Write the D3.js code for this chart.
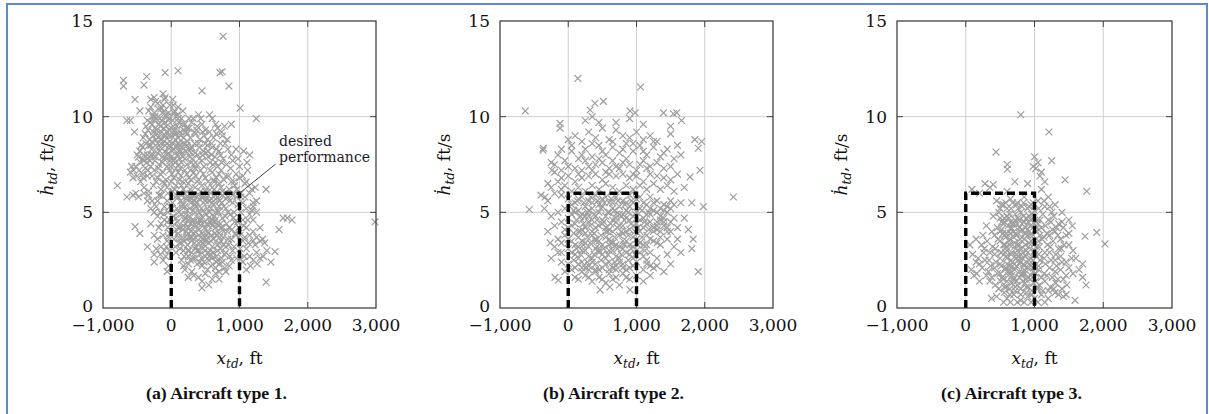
<!DOCTYPE html>
<html><head><meta charset="utf-8">
<script src="https://cdn.jsdelivr.net/npm/d3@7"></script>
<style>html,body{margin:0;padding:0;background:#fff;}svg{display:block;}</style>
</head><body>
<svg id="chart" width="1209" height="414"></svg>
<script>
const xTicks = [-1000, 0, 1000, 2000, 3000];
const yTicks = [0, 5, 10, 15];
const xDomain = [-1000, 3000];
const yDomain = [0, 15];
const captions = ["(a) Aircraft type 1.", "(b) Aircraft type 2.", "(c) Aircraft type 3."];
const desiredX = [0, 1000];
const desiredH = 6;
const annotationLines = ["desired", "performance"];

const type1Points = [
[-300,10.5],[-250,10.2],[-200,10.7],[-150,10.4],[-100,10.9],[-80,10.1],[-20,10.6],[50,10.3],[100,10.5],[150,9.9],
[-350,9.8],[-280,9.6],[-220,9.9],[-160,9.5],[-90,9.7],[-30,9.3],[20,9.8],[80,9.5],[130,9.2],[200,9.6],
[260,9.4],[320,9.9],[400,10.1],[450,9.6],[-380,9.1],[-320,8.8],[-260,9.2],[-190,8.9],[-120,9.0],[-60,8.6],
[0,9.0],[60,8.8],[120,8.5],[180,8.9],[240,8.7],[300,8.4],[360,9.1],[420,8.8],[500,8.6],[560,9.2],
[620,8.9],[680,9.4],[720,8.6],[780,9.5],[-420,8.4],[-350,8.0],[-290,8.3],[-230,7.9],[-170,8.2],[-110,7.8],
[-40,8.1],[30,7.7],[90,8.0],[150,7.6],[210,8.2],[270,7.9],[330,7.5],[390,8.0],[450,7.7],[510,8.1],
[570,7.6],[640,7.9],[700,8.2],[760,7.8],[830,8.3],[-450,7.6],[-380,7.3],[-310,7.7],[-250,7.2],[-180,7.5],
[-120,7.1],[-60,7.4],[10,7.0],[70,7.3],[140,6.9],[200,7.2],[260,6.8],[330,7.1],[400,6.7],[470,7.0],
[540,6.6],[600,7.1],[660,6.8],[730,7.2],[800,6.9],[870,7.3],[950,7.0],[1000,7.4],[1050,6.9],[1120,7.2],
[-240,9.4],[-140,9.8],[-60,10.0],[40,9.1],[-10,8.4],[110,8.2],[-200,8.6],[180,9.3],[-130,10.2],[-270,9.0],
[70,10.0],[230,9.1],[290,8.1],[340,8.6],[-300,8.5],[20,8.6],[160,8.1],[-70,9.2],[260,9.9],[380,9.5],
[480,9.0],[540,8.2],[600,8.4],[650,7.6],[-20,7.7],[-90,8.5],[130,7.3],[310,7.8],
[-100,6.5],[-50,6.0],[0,6.6],[50,6.2],[100,5.8],[150,6.4],[200,6.0],[250,6.5],[300,5.7],[350,6.3],
[400,5.9],[450,6.4],[500,6.1],[550,5.6],[600,6.3],[650,5.9],[700,6.5],[750,6.1],[800,5.7],[850,6.2],
[900,5.9],[-200,6.8],[-150,6.2],[120,6.7],[380,6.6],[620,6.7],[880,6.6],[960,6.2],[1020,5.8],[1080,6.5],
[1150,6.0],[1200,5.5],
[20,5.5],[80,5.2],[140,5.6],[200,5.3],[260,5.7],[320,5.1],[380,5.5],[440,5.2],[500,5.6],[560,5.0],
[620,5.4],[680,5.1],[740,5.5],[800,5.2],[860,5.6],[920,5.0],[980,5.4],
[30,4.8],[90,4.5],[150,4.9],[210,4.4],[270,4.8],[330,4.3],[390,4.7],[450,4.4],[510,4.9],[570,4.5],
[630,4.8],[690,4.3],[750,4.7],[810,4.4],[870,4.9],[930,4.5],[990,4.2],
[50,4.0],[110,3.7],[170,4.1],[230,3.6],[290,4.0],[350,3.7],[410,4.1],[470,3.6],[530,4.0],[590,3.8],
[650,4.2],[710,3.7],[770,4.0],[830,3.6],[890,4.1],[950,3.8],
[60,3.2],[120,3.4],[180,3.0],[240,3.3],[300,2.9],[360,3.2],[420,2.8],[480,3.3],[540,2.9],[600,3.2],
[660,2.7],[720,3.1],[780,2.8],[840,3.3],[900,3.0],[960,2.6],
[150,2.5],[250,2.3],[350,2.6],[450,2.2],[550,2.5],[650,2.1],[750,2.4],[850,2.2],[300,1.9],[500,1.8],
[700,1.9],[400,1.6],[600,1.5],[200,2.0],
[250,4.6],[350,5.0],[450,3.9],[550,4.7],[300,3.5],[400,4.4],[500,3.5],[600,4.3],[350,4.0],[450,4.8],
[250,3.9],[550,3.4],[650,4.6],[700,3.9],[200,4.7],[150,3.4],[100,4.2],[400,3.0],[500,2.7],[600,2.6],
[700,2.3],[800,2.9],[450,5.8],[300,5.9],[150,5.9],[650,5.7],[750,5.9],
[-600,7.1],[-550,7.2],[-500,6.9],[-450,6.6],[-400,6.3],[-520,6.0],[-480,5.8],[-560,5.9],[-350,5.6],[-300,5.2],
[-250,5.0],[-200,4.8],[-150,4.4],[-100,4.6],[-50,4.2],[-300,4.4],[-250,3.8],[-200,3.6],[-150,3.2],[-100,3.0],
[-60,3.5],[-20,3.9],[-350,3.2],[-250,2.8],[-120,2.5],[-40,2.2],[-200,5.6],[-100,5.3],[-50,5.0],[-150,5.9],
[-420,7.0],[-350,6.9],[-60,5.6],[-20,4.6],[-30,3.0],
[1050,5.5],[1100,5.2],[1150,4.9],[1200,5.3],[1250,5.0],[1050,4.6],[1100,4.2],[1150,3.8],[1200,4.0],[1050,3.5],
[1100,3.1],[1150,2.7],[1200,2.5],[1250,2.9],[1300,2.6],[1050,2.4],[1100,2.0],[1350,2.7],[1400,3.0],[1300,3.5],
[1340,3.6],[1370,3.4],[1250,3.7],[1200,4.6],[1020,6.0],[1080,5.8],
[760,14.2],[100,12.4],[-90,12.3],[-360,12.1],[-700,11.9],[-700,11.6],[-400,11.65],[715,12.3],[745,12.35],[845,11.6],
[450,11.35],[1010,10.45],[1245,9.9],[-120,11.2],[-90,11.0],[-530,10.9],[-650,9.8],[-540,9.2],[-790,6.4],[-650,5.8],
[-530,4.25],[-460,3.9],[-250,2.4],[-60,1.9],[450,1.05],[1390,1.35],[1520,2.95],[1580,4.1],[1640,4.7],[1770,4.6],
[1700,4.7],[2985,4.5],[1390,6.2],[1230,6.3],[1110,7.6],[1230,3.3],[1460,2.4],[-460,10.3],[-300,10.9],[-250,11.0],
[880,9.6],[560,10.1],[600,9.9],[1060,8.2],[1150,8.0],[-600,9.8]
];
const type1Core = [
[-330,10.3],[-270,10.0],[-190,10.4],[-120,10.6],[-40,10.2],[30,10.6],[90,10.1],[170,10.3],[-230,10.8],[20,10.9],
[-370,9.5],[-310,9.7],[-250,9.8],[-180,9.6],[-110,9.4],[-40,9.8],[30,9.5],[100,9.9],[160,9.6],[230,9.4],
[300,9.7],[370,9.3],[430,9.9],[500,9.3],[650,9.6],[740,9.2],
[-410,8.9],[-340,9.3],[-280,8.7],[-210,9.1],[-150,8.8],[-80,9.0],[-20,8.7],[50,9.3],[100,8.9],[170,8.6],
[220,9.2],[280,8.9],[340,9.2],[400,8.6],[460,9.2],[530,8.8],[590,8.6],[660,9.1],[750,9.0],[820,8.8],
[-460,8.2],[-400,8.0],[-330,8.5],[-270,8.0],[-210,8.4],[-150,8.6],[-90,8.2],[-30,8.5],[40,8.3],[100,8.6],
[160,8.4],[230,8.5],[290,8.3],[350,8.1],[410,8.4],[470,8.2],[530,8.5],[590,8.0],[660,8.3],[720,8.0],
[790,8.6],[880,8.0],[950,8.3],
[-480,7.9],[-420,7.8],[-360,7.6],[-300,7.4],[-240,7.7],[-190,7.3],[-130,7.6],[-70,7.8],[-10,7.4],[50,7.8],
[110,7.5],[170,7.9],[230,7.5],[290,7.6],[350,7.3],[410,7.8],[480,7.4],[540,7.9],[610,7.5],[680,7.4],
[740,7.6],[810,7.5],[900,7.7],[980,7.8],
[-470,7.2],[-410,6.8],[-340,7.2],[-280,6.9],[-220,6.6],[-160,7.0],[-80,6.7],[-20,7.2],[40,6.8],[100,7.1],
[170,6.6],[230,7.0],[290,6.7],[360,6.9],[430,7.2],[500,6.8],[570,7.2],[630,6.6],[700,7.0],[770,6.7],
[840,6.9],[920,6.6],[1000,6.8],
[-330,6.1],[-260,6.4],[-180,5.9],[-120,6.6],[-60,6.3],[20,6.1],[70,6.4],[130,6.0],[180,6.2],[230,5.8],
[280,6.2],[330,5.9],[430,6.1],[480,5.8],[530,6.3],[580,6.0],[630,6.2],[680,5.8],[730,6.3],[780,6.0],
[830,5.8],[930,6.4],
[10,5.2],[60,5.8],[110,5.0],[170,5.4],[230,5.1],[290,5.5],[350,5.4],[410,5.0],[470,5.5],[530,5.2],
[590,5.7],[650,5.0],[710,5.6],[770,5.3],[830,5.0],[900,5.5],[960,5.8],
[20,4.3],[70,4.7],[130,4.2],[190,4.6],[250,4.2],[310,4.6],[370,4.3],[430,4.6],[490,4.2],[550,4.3],
[610,4.6],[670,4.4],[730,4.2],[790,4.8],[850,4.2],[910,4.7],[970,4.5],
[40,3.6],[100,3.9],[160,3.7],[220,4.0],[280,3.7],[340,3.4],[400,3.8],[460,3.4],[520,3.8],[580,3.5],
[640,3.9],[700,3.4],[760,3.7],[820,4.0],[880,3.6],[940,3.9],
[70,2.9],[130,3.1],[190,2.7],[260,3.0],[320,2.6],[380,3.0],[440,2.6],[500,3.0],[560,2.7],[620,2.9],
[680,3.3],[740,2.6],[800,3.2],[860,2.7],[920,3.2],
[180,2.2],[280,2.5],[380,2.3],[480,2.4],[580,2.2],[680,2.5],[780,2.1],[880,2.5],[330,1.7],[530,2.0],
[650,1.8],[800,1.9],[250,1.6],[450,1.4],[550,1.2],[700,1.5],
[1020,5.0],[1060,4.3],[1120,4.6],[1180,5.1],[1010,3.8],[1080,3.7],[1130,3.4],[1010,3.1],[1070,2.7],[1010,2.6],
[1200,3.5],[1160,2.2],[1260,2.3],[1300,4.2],[1250,5.6],[1180,6.2],[1100,6.6],
[-400,6.0],[-330,5.9],[-280,5.6],[-220,5.3],[-160,5.0],[-110,4.9],[-60,4.5],[-180,4.2],[-120,3.8],[-70,3.2],
[-160,2.8],[-80,2.7],[-220,3.1],[-40,3.7],[-20,5.3],[-520,7.4],[-560,6.8],[-580,7.4],[-500,8.0],[-440,8.5],
[-370,8.6]
];
const type1Dense = [
[160,5.3],[210,4.9],[270,5.2],[310,4.5],[360,5.3],[420,4.6],[470,5.1],[520,4.4],[580,5.2],[630,4.5],
[690,5.0],[740,4.2],[180,4.3],[230,3.8],[280,4.4],[330,3.9],[380,4.5],[430,3.7],[490,4.5],[540,3.9],
[600,4.6],[660,3.8],[720,4.4],[770,3.3],[190,3.5],[240,3.0],[300,3.7],[350,3.1],[400,3.4],[460,3.1],
[510,3.6],[570,3.0],[620,3.6],[680,3.0],[730,3.5],[220,5.7],[340,5.6],[410,5.7],[520,5.8],[600,5.5],
[700,5.3],[250,2.7],[420,2.4],[580,2.8],[660,2.4],
[-240,10.0],[-170,9.9],[-100,10.3],[-30,9.9],[40,10.2],[110,9.7],[-210,9.3],[-140,9.2],[-70,9.5],[0,9.4],
[70,9.1],[140,9.0],[200,8.6],[-230,8.8],[-160,8.4],[-100,8.7],[-40,9.0],[10,8.2],[80,8.5],[140,8.2],
[250,8.3],[-200,8.1],[-130,7.9],[-60,8.0],[0,7.9],[60,7.6],[120,7.8],[200,7.8],[280,7.2],[380,7.5],
[460,8.0],[-300,8.0],[-350,7.8],[-400,7.7]
];

const type2Points = [
[-100,5.9],[0,5.7],[100,5.5],[200,5.8],[300,5.6],[400,5.9],[500,5.7],[600,5.5],[700,5.8],[800,5.6],
[900,5.9],[1000,5.7],[1100,5.5],[1200,5.8],[1300,5.6],[1400,5.4],[1500,5.6],
[-150,5.0],[-50,5.2],[50,4.9],[150,5.1],[250,4.8],[350,5.2],[450,5.0],[550,4.8],[650,5.2],[750,4.9],
[850,5.1],[950,4.8],[1050,5.2],[1150,4.9],[1250,5.1],[1350,4.8],[1450,5.0],[1550,4.7],
[-200,4.3],[-100,4.5],[0,4.2],[100,4.4],[200,4.1],[300,4.5],[400,4.2],[500,4.4],[600,4.1],[700,4.5],
[800,4.3],[900,4.1],[1000,4.4],[1100,4.2],[1200,4.5],[1300,4.1],[1400,4.3],[1500,4.0],[1600,4.2],
[-150,3.6],[-50,3.8],[50,3.5],[150,3.7],[250,3.4],[350,3.8],[450,3.5],[550,3.7],[650,3.4],[750,3.8],
[850,3.5],[950,3.7],[1050,3.4],[1150,3.8],[1250,3.5],[1350,3.3],[1450,3.6],[1550,3.2],
[-100,2.9],[0,3.1],[100,2.8],[200,3.0],[300,2.7],[400,3.1],[500,2.8],[600,3.0],[700,2.7],[800,3.1],
[900,2.8],[1000,3.0],[1100,2.7],[1200,2.9],[1300,2.6],[1450,2.8],
[0,2.3],[100,2.1],[200,2.4],[300,2.0],[400,2.3],[500,2.1],[600,2.4],[700,2.0],[800,2.3],[900,2.1],
[1000,2.4],[1100,2.0],[1200,2.2],[-50,1.9],
[150,1.5],[250,1.7],[350,1.4],[450,1.6],[550,1.3],[650,1.5],[750,1.2],[850,1.6],[1100,1.4],[1200,1.7],
[300,4.8],[400,3.6],[500,5.3],[600,3.3],[700,4.9],[800,3.9],[350,4.6],[450,3.0],[550,4.0],[650,4.6],
[750,3.2],[850,4.7],[250,3.9],[150,3.2],[950,3.2],[1050,4.6],[1150,3.3],[1250,4.0],[1350,4.6],[900,5.3],
[200,4.9],
[-300,6.5],[-200,7.1],[-100,6.8],[0,7.4],[100,6.6],[200,7.2],[300,6.9],[400,7.5],[500,6.7],[600,7.3],
[700,6.9],[800,7.6],[900,6.8],[1000,7.2],[1100,6.6],[1200,7.4],[1300,6.9],[1400,7.3],[1500,6.7],[1600,7.0],
[-250,7.6],[-150,8.0],[-50,7.7],[50,8.2],[150,7.8],[250,8.3],[350,7.9],[450,8.5],[550,8.0],[650,8.4],
[750,8.1],[850,8.6],[950,8.2],[1050,8.5],[1150,8.0],[1250,8.4],[1350,7.9],[1450,8.3],[1550,7.8],[1650,8.0],
[0,8.8],[100,9.0],[200,8.7],[300,9.2],[400,8.9],[500,9.4],[600,8.8],[700,9.3],[800,9.0],[900,8.9],
[1000,9.2],[1100,8.8],[1200,9.0],[1300,8.7],[1500,9.1],
[250,9.8],[350,10.0],[450,9.7],[700,9.7],[900,9.9],[1100,9.6],[1500,9.5],
[-200,6.0],[-100,6.2],[1700,6.3],[1650,5.5],[1700,4.7],[1600,3.6],[1650,2.9],[1500,2.3],[1400,1.9],[1300,2.2],
[-250,2.6],[-200,3.2],[-300,4.0],[-250,4.8],[-350,5.2],[-300,5.6],
[140,12.0],[1060,11.55],[-630,10.3],[390,10.7],[515,10.8],[320,10.35],[905,10.3],[980,10.2],[1395,10.2],[1540,10.15],
[1590,10.2],[1660,9.8],[-120,9.65],[-120,9.4],[-365,8.35],[-370,8.25],[1855,8.8],[1955,8.7],[1905,8.35],[1930,7.2],
[1785,6.85],[2420,5.8],[-570,5.15],[-340,5.8],[1980,5.3],[1810,5.5],[1905,1.9],[-265,3.4],[-145,1.45],[-195,1.6],
[1810,3.1],[1830,3.6],[1760,4.1],[465,0.95],[610,1.1],[905,0.95],[-400,5.9],[-240,7.2]
];
const type2Core = [
[50,5.4],[150,5.7],[250,5.3],[350,5.5],[450,5.4],[550,5.8],[650,5.5],[750,5.3],[850,5.5],[950,5.5],
[1050,5.8],[1150,5.4],[1250,5.5],[1350,5.2],[1450,5.3],
[0,4.7],[100,5.0],[200,4.6],[300,5.1],[400,4.8],[500,4.6],[600,5.0],[700,4.7],[800,4.9],[900,4.6],
[1000,5.0],[1100,4.7],[1200,4.9],[1300,4.5],[1400,4.7],[1500,4.5],
[-50,4.1],[50,4.3],[150,4.0],[250,4.2],[350,4.0],[450,4.3],[550,4.2],[650,4.0],[750,4.3],[850,4.0],
[950,4.3],[1050,4.0],[1150,4.4],[1250,4.2],[1350,4.0],[1450,4.2],
[-100,3.4],[0,3.6],[100,3.3],[200,3.5],[300,3.2],[400,3.5],[500,3.3],[600,3.6],[700,3.3],[800,3.5],
[900,3.3],[1000,3.6],[1100,3.3],[1200,3.6],[1300,3.4],
[50,2.9],[150,2.6],[250,3.0],[350,2.6],[450,2.9],[550,2.6],[650,3.0],[750,2.6],[850,2.9],[950,2.6],
[1050,2.9],[1150,2.5],
[50,2.0],[150,2.3],[250,2.1],[350,2.4],[450,2.0],[550,2.3],[650,2.1],[750,2.4],[850,2.0],[950,2.2],
[1150,2.3],[1250,2.1],
[100,1.6],[200,1.9],[300,1.6],[400,1.9],[500,1.5],[600,1.8],[700,1.6],[800,1.8],[900,1.5],[1000,1.7],
[-100,2.4],[-150,2.9],
[-250,6.3],[-150,6.6],[-50,6.4],[50,6.1],[150,6.3],[250,6.1],[350,6.4],[450,6.2],[550,6.5],[650,6.3],
[750,6.1],[850,6.4],[950,6.2],[1050,6.4],[1150,6.2],[1250,6.5],[1350,6.2],[1450,6.4],[1550,6.1],
[-200,7.5],[-100,7.2],[0,6.9],[100,7.3],[200,6.8],[300,7.4],[400,7.0],[500,7.6],[600,7.0],[700,7.4],
[800,7.0],[900,7.5],[1000,6.9],[1100,7.7],[1200,7.0],[1300,7.6],[1400,6.8],[1500,7.4],
[-100,8.3],[50,8.5],[200,8.0],[350,8.6],[500,8.2],[650,8.7],[800,8.3],[950,8.6],[1100,8.2],[1250,8.7],
[1400,8.1],[1600,8.5]
];
const type2Dense = [
[130,5.6],[230,5.5],[330,5.8],[430,5.6],[530,5.5],[630,5.7],[730,5.6],[830,5.4],[930,5.6],
[80,5.1],[180,4.8],[280,5.0],[380,4.9],[480,5.2],[580,5.0],[680,5.1],[780,4.8],[880,5.0],[980,4.9],
[1080,5.1],[1180,5.0],
[120,4.6],[220,4.4],[320,4.3],[420,4.6],[520,4.5],[620,4.4],[720,4.2],[820,4.6],[920,4.4],[1020,4.2],
[1120,4.5],
[80,3.9],[180,4.0],[280,3.7],[380,3.9],[480,3.8],[580,4.0],[680,3.7],[780,4.0],[880,3.8],[980,4.0],
[1080,3.7],[1180,4.1],
[120,3.1],[220,3.3],[320,3.4],[420,3.2],[520,3.1],[620,3.4],[720,3.1],[820,3.3],[920,3.1],[1020,3.3],
[1120,3.0],
[80,2.5],[180,2.8],[280,2.4],[380,2.8],[480,2.5],[580,2.8],[680,2.4],[780,2.8],[880,2.5],[980,2.8],
[200,2.1],[400,2.0],[600,2.0],[800,2.1],[300,2.2],[700,2.2],
[1200,5.2],[1300,5.0],[1400,5.1],[1300,4.3],[1400,4.5],[1450,4.0],[1350,3.7],[1500,5.2],[1550,5.4],
[150,7.0],[350,7.2],[550,7.1],[750,7.3],[950,7.0],[1150,7.3],[250,7.7],[450,7.8],[650,7.7],[850,7.8],
[1050,7.5]
];

const type3Points = [
[450,5.6],[550,5.4],[650,5.7],[750,5.5],[850,5.8],[950,5.4],[1050,5.6],[1150,5.3],[1250,5.0],
[400,4.8],[480,5.0],[560,4.7],[640,4.9],[720,4.6],[800,5.0],[880,4.7],[960,4.9],[1040,4.6],[1120,4.9],
[1200,4.6],[1280,4.8],[1350,4.4],
[300,4.3],[380,4.0],[460,4.2],[540,3.9],[620,4.3],[700,4.0],[780,4.2],[860,3.9],[940,4.3],[1020,4.0],
[1100,4.2],[1180,3.9],[1260,4.1],[1340,3.8],[1420,4.2],[1500,3.9],[1550,4.3],
[150,3.6],[230,3.3],[310,3.5],[390,3.2],[470,3.6],[550,3.3],[630,3.5],[710,3.2],[790,3.6],[870,3.3],
[950,3.5],[1030,3.2],[1110,3.6],[1190,3.3],[1270,3.5],[1350,3.1],[1430,3.3],[1560,3.0],
[100,2.8],[180,2.6],[260,2.9],[340,2.5],[420,2.8],[500,2.6],[580,2.9],[660,2.5],[740,2.8],[820,2.6],
[900,2.9],[980,2.5],[1060,2.8],[1140,2.6],[1220,2.9],[1300,2.5],[1380,2.7],[1460,2.4],[1540,2.6],
[80,2.0],[160,1.8],[240,2.1],[330,1.9],[420,2.1],[500,1.8],[580,2.1],[660,1.9],[740,2.2],[820,1.8],
[900,2.1],[980,1.9],[1060,2.2],[1140,1.8],[1220,2.1],[1300,1.9],[1380,2.0],[1460,1.7],[1560,1.8],
[350,1.4],[430,1.2],[510,1.4],[590,1.1],[670,1.3],[750,1.2],[830,1.4],[910,1.1],[990,1.3],[1070,1.2],
[1150,1.4],[1230,1.1],[1310,1.3],[1400,1.0],[1470,1.2],
[450,0.6],[600,0.5],[700,0.7],[800,0.4],[900,0.6],[1000,0.5],[1100,0.7],[1200,0.5],[1300,0.8],[1420,0.6],
[1460,0.7],
[600,3.0],[700,3.7],[800,2.4],[900,3.8],[650,4.5],[750,4.4],[850,4.5],[700,1.6],[800,3.1],[900,1.6],
[600,2.3],[650,3.9],[750,3.0],[850,2.2],[950,4.6],[550,4.4],[950,2.2],[1000,3.0],[620,1.7],[780,1.9],
[880,3.0],[720,4.9],[820,4.1],[680,2.4],[920,4.0],[560,3.8],[640,3.3],[760,2.7],[860,1.3],[1080,3.8],
[800,10.1],[1210,9.2],[440,8.15],[605,7.5],[605,7.25],[1250,7.7],[1000,7.9],[1050,7.6],[1020,7.3],[1100,7.1],
[1080,6.9],[980,7.4],[1150,6.6],[900,6.5],[1445,6.7],[1760,6.1],[1905,3.95],[2025,3.35],[90,6.2],[280,6.5],
[400,6.45],[715,6.6],[1735,3.75],[1590,0.4],[375,0.5],[1700,1.6],[1750,1.2],[1650,2.0],[1600,2.6],[1700,2.3],
[350,6.3],[200,6.0],[600,6.1],[1100,6.2],[1200,5.8],[1300,5.4],[1400,5.0],[1500,4.6],[150,2.4],[120,1.7],
[200,1.4],[60,3.3],[250,3.8]
];
const type3Core = [
[500,5.2],[580,5.5],[660,5.2],[740,5.4],[820,5.3],[900,5.2],[980,5.5],[1060,5.2],[1140,5.6],[1220,5.3],
[520,4.5],[600,4.8],[680,4.4],[760,4.7],[840,4.5],[920,4.8],[1000,4.4],[1080,4.6],[1160,4.3],[1240,4.5],
[1320,4.2],[1400,4.5],
[420,3.8],[500,4.0],[580,3.7],[660,4.1],[740,3.8],[820,3.7],[900,4.1],[980,3.8],[1060,4.1],[1140,3.7],
[1220,3.8],[1300,4.0],[1380,3.6],[1460,3.8],
[270,3.1],[350,2.9],[430,3.1],[510,2.9],[590,3.2],[670,2.9],[750,3.3],[830,2.9],[910,3.2],[990,2.9],
[1070,3.2],[1150,2.9],[1230,3.2],[1310,2.8],[1390,3.1],[1500,3.3],
[200,2.3],[280,2.5],[360,2.2],[440,2.4],[520,2.2],[600,2.6],[680,2.2],[760,2.5],[840,2.3],[920,2.5],
[1000,2.2],[1080,2.5],[1160,2.3],[1240,2.5],[1320,2.2],[1400,2.4],[1500,2.1],
[300,1.7],[380,1.6],[460,1.8],[540,1.5],[620,1.9],[700,1.5],[780,1.6],[860,1.8],[940,1.5],[1020,1.8],
[1100,1.6],[1180,1.7],[1260,1.6],[1340,1.5],[1420,1.5],
[480,1.0],[560,0.8],[640,1.0],[720,0.9],[800,1.0],[880,0.8],[960,0.9],[1040,1.0],[1120,0.9],[1200,0.9],
[1280,1.0],[1350,0.7],
[550,0.3],[650,0.3],[750,0.3],[850,0.3],[950,0.3],[1050,0.3],[1150,0.3]
];
const type3Dense = [
[520,5.4],[600,5.2],[680,5.5],[760,5.2],[840,5.5],[920,5.3],[1000,5.1],
[500,4.7],[560,4.5],[630,4.7],[700,4.4],[770,4.6],[840,4.8],[910,4.5],[980,4.7],[1050,4.4],
[520,4.1],[590,3.9],[660,4.2],[730,3.9],[800,4.0],[870,4.2],[940,3.8],[1010,4.1],
[500,3.5],[570,3.3],[640,3.6],[710,3.4],[780,3.3],[850,3.6],[920,3.4],[990,3.3],[1060,3.5],
[520,2.9],[590,2.7],[660,2.8],[730,2.6],[800,2.8],[870,2.7],[940,2.6],[1010,2.8],
[500,2.3],[570,2.0],[640,2.2],[710,2.0],[780,2.3],[850,2.0],[920,2.3],[990,2.1],[1060,2.0],
[530,1.6],[600,1.4],[670,1.7],[740,1.4],[810,1.7],[880,1.5],[950,1.7],[1020,1.4],
[560,1.1],[640,0.7],[720,1.1],[800,0.7],[880,1.1],[960,0.7],[1040,1.1]
];

const panelData = [
  type1Points.concat(type1Core, type1Dense),
  type2Points.concat(type2Core, type2Dense),
  type3Points.concat(type3Core, type3Dense)
];
const panelLeft = [103, 500, 897];
const panelWidth = [273, 273, 275];
const plotTop = 21, plotBottom = 308;

const svg = d3.select("#chart");
const serif = "'DejaVu Serif', serif";

// outer blue frame
svg.append("line").attr("x1", 6).attr("x2", 1208).attr("y1", 4).attr("y2", 4)
  .attr("stroke", "#5a8ad0").attr("stroke-width", 2);
svg.append("line").attr("x1", 7).attr("x2", 7).attr("y1", 3).attr("y2", 414)
  .attr("stroke", "#5a8ad0").attr("stroke-width", 2);
svg.append("line").attr("x1", 1207).attr("x2", 1207).attr("y1", 3).attr("y2", 414)
  .attr("stroke", "#5a8ad0").attr("stroke-width", 2);

panelData.forEach((pts, i) => {
  const x = d3.scaleLinear().domain(xDomain).range([panelLeft[i], panelLeft[i] + panelWidth[i]]);
  const y = d3.scaleLinear().domain(yDomain).range([plotBottom, plotTop]);
  const g = svg.append("g");

  // grid
  g.selectAll(".gx").data(xTicks.slice(1, -1)).join("line")
    .attr("x1", d => x(d)).attr("x2", d => x(d)).attr("y1", plotTop).attr("y2", plotBottom)
    .attr("stroke", "#cfcfcf").attr("stroke-width", 1);
  g.selectAll(".gy").data(yTicks.slice(1, -1)).join("line")
    .attr("y1", d => y(d)).attr("y2", d => y(d)).attr("x1", x.range()[0]).attr("x2", x.range()[1])
    .attr("stroke", "#cfcfcf").attr("stroke-width", 1);

  // points
  g.selectAll(".pt").data(pts).join("path")
    .attr("transform", d => `translate(${x(d[0])},${y(d[1])})`)
    .attr("d", "M-3.4,-3.4L3.4,3.4M-3.4,3.4L3.4,-3.4")
    .attr("stroke", "#9e9e9e").attr("stroke-width", 1.2).attr("fill", "none");

  // inner ticks
  const tickLen = 6;
  xTicks.slice(1, -1).forEach(t => {
    g.append("line").attr("x1", x(t)).attr("x2", x(t)).attr("y1", plotBottom).attr("y2", plotBottom - tickLen).attr("stroke", "#444");
    g.append("line").attr("x1", x(t)).attr("x2", x(t)).attr("y1", plotTop).attr("y2", plotTop + tickLen).attr("stroke", "#444");
  });
  yTicks.slice(1, -1).forEach(t => {
    g.append("line").attr("y1", y(t)).attr("y2", y(t)).attr("x1", x.range()[0]).attr("x2", x.range()[0] + tickLen).attr("stroke", "#444");
    g.append("line").attr("y1", y(t)).attr("y2", y(t)).attr("x1", x.range()[1]).attr("x2", x.range()[1] - tickLen).attr("stroke", "#444");
  });

  // desired performance box
  const dpath = d3.path();
  dpath.moveTo(x(desiredX[0]), y(0));
  dpath.lineTo(x(desiredX[0]), y(desiredH));
  dpath.lineTo(x(desiredX[1]), y(desiredH));
  dpath.lineTo(x(desiredX[1]), y(0));
  g.append("path").attr("d", dpath.toString()).attr("fill", "none")
    .attr("stroke", "#000").attr("stroke-width", 3.4).attr("stroke-dasharray", "8,4");

  // frame
  g.append("rect").attr("x", x.range()[0]).attr("y", plotTop)
    .attr("width", panelWidth[i]).attr("height", plotBottom - plotTop)
    .attr("fill", "none").attr("stroke", "#333").attr("stroke-width", 1.2);

  // tick labels
  const fmt = d3.format(",");
  g.selectAll(".xl").data(xTicks).join("text")
    .attr("x", d => x(d)).attr("y", 331).attr("text-anchor", "middle")
    .attr("font-family", serif).attr("font-size", 17).attr("fill", "#111")
    .text(d => fmt(d));
  g.selectAll(".yl").data(yTicks).join("text")
    .attr("x", x.range()[0] - 10).attr("y", d => y(d) + (d === 0 ? 4 : 6)).attr("text-anchor", "end")
    .attr("font-family", serif).attr("font-size", 17).attr("fill", "#111")
    .text(d => d);

  // x axis label
  const cx = (x.range()[0] + x.range()[1]) / 2;
  const xl = g.append("text").attr("x", cx).attr("y", 364).attr("text-anchor", "middle")
    .attr("font-family", serif).attr("font-size", 17).attr("fill", "#111");
  xl.append("tspan").attr("font-style", "italic").text("x");
  xl.append("tspan").attr("font-style", "italic").attr("font-size", 12).attr("dy", 4).text("td");
  xl.append("tspan").attr("dy", -4).text(", ft");

  // y axis label
  const cy = (plotTop + plotBottom) / 2;
  const yl = g.append("text").attr("transform", `translate(${x.range()[0] - 50},${cy}) rotate(-90)`)
    .attr("text-anchor", "middle").attr("font-family", serif).attr("font-size", 17).attr("fill", "#111");
  yl.append("tspan").attr("font-style", "italic").text("\u1E23");
  yl.append("tspan").attr("font-style", "italic").attr("font-size", 12).attr("dy", 4).text("td");
  yl.append("tspan").attr("dy", -4).text(", ft/s");

  // caption
  g.append("text").attr("x", cx - 23).attr("y", 399).attr("text-anchor", "middle")
    .attr("font-family", "'Liberation Serif', serif").attr("font-weight", "bold").attr("font-size", 16)
    .attr("textLength", 141).attr("lengthAdjust", "spacingAndGlyphs").attr("fill", "#111")
    .text(captions[i]);

  if (i === 0) {
    g.append("line").attr("x1", x(desiredX[1])).attr("y1", y(desiredH))
      .attr("x2", x(desiredX[1]) + 36).attr("y2", y(desiredH) - 29)
      .attr("stroke", "#444").attr("stroke-width", 1);
    annotationLines.forEach((t, k) => {
      g.append("text").attr("x", 279).attr("y", 146 + k * 16)
        .attr("font-family", serif).attr("font-size", 14).attr("fill", "#1a1a2e").text(t);
    });
  }
});
</script>
</body></html>
